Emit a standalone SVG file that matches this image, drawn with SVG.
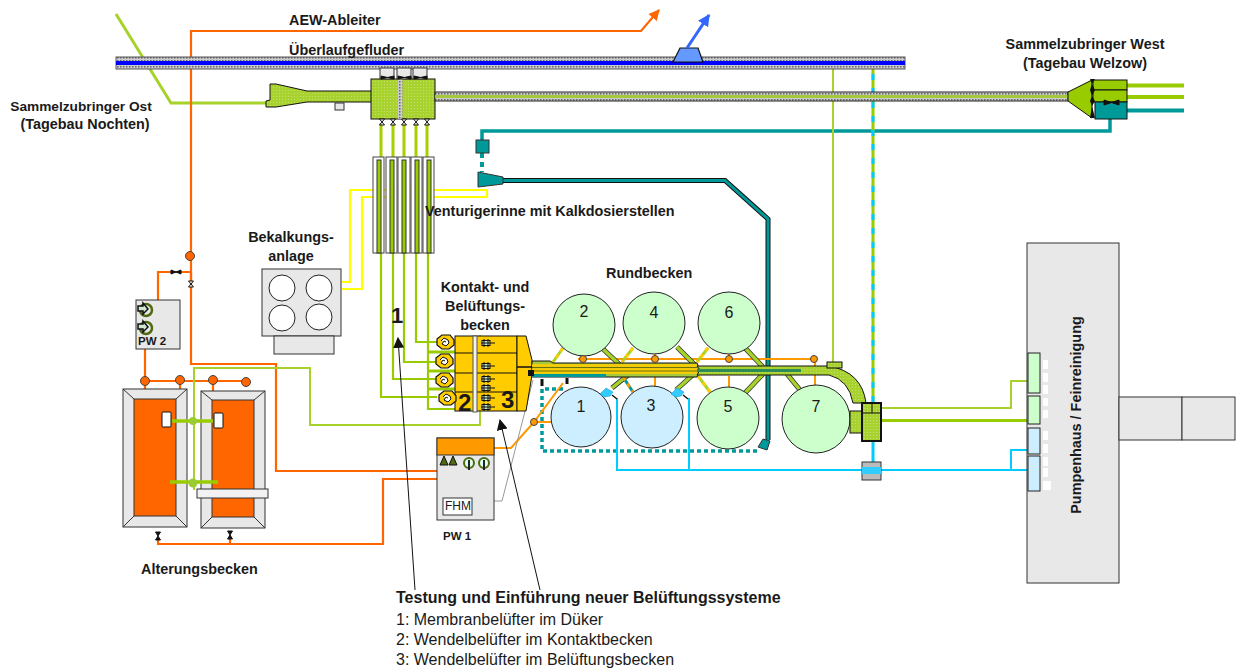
<svg xmlns="http://www.w3.org/2000/svg" width="1238" height="668" viewBox="0 0 1238 668">
<style>
text{font-family:"Liberation Sans",Arial,sans-serif;fill:#1a1a1a}
.b{font-weight:bold;font-size:14.4px}
.m{text-anchor:middle}
.n{font-size:16px;text-anchor:middle}
.l{font-size:16px}
.o{fill:none;stroke:#ff6600;stroke-width:2.2}
.oc{fill:#ff6600;stroke:#444;stroke-width:1}
.a{fill:none;stroke:#ff9900;stroke-width:2}
.ac{fill:#ff9900;stroke:#444;stroke-width:1}
.g{fill:none;stroke:#99cc00;stroke-width:2.2}
.gt{fill:none;stroke:#a6d22a;stroke-width:2}
.y{fill:none;stroke:#ffff00;stroke-width:2.2}
.c{fill:none;stroke:#00ccff;stroke-width:2}
.ln{stroke:#111;stroke-width:1}
.box{fill:#e8e8e8;stroke:#333;stroke-width:1}
.pf{fill:url(#gh);stroke:#111;stroke-width:1}
.rg{fill:#ccffcc;stroke:#222;stroke-width:1}
.rb{fill:#cceeff;stroke:#222;stroke-width:1}
.vs{fill:#fff;stroke:#444}
.vi{fill:#99cc00;stroke:#333}
</style>
<defs>
<pattern id="gh" width="3" height="3" patternUnits="userSpaceOnUse"><rect width="3" height="3" fill="#a8d22e"/><rect width="1" height="1" fill="#c4dc70"/></pattern>
<pattern id="hg" width="3" height="3" patternUnits="userSpaceOnUse"><rect width="3" height="3" fill="#ccc"/><rect width="1.5" height="1.5" fill="#666"/></pattern>
<marker id="ah" viewBox="0 0 10 10" refX="9" refY="5" markerWidth="11" markerHeight="11" markerUnits="userSpaceOnUse" orient="auto"><path d="M0 0L10 5L0 10Z" fill="#111"/></marker>
<marker id="ao" viewBox="0 0 10 10" refX="9" refY="5" markerWidth="11" markerHeight="11" markerUnits="userSpaceOnUse" orient="auto"><path d="M0 0L10 5L0 10Z" fill="#ff6600"/></marker>
<marker id="abl" viewBox="0 0 10 10" refX="9" refY="5" markerWidth="12" markerHeight="12" markerUnits="userSpaceOnUse" orient="auto"><path d="M0 0L10 5L0 10Z" fill="#3366ff"/></marker>
<path id="v" d="M-2.500 -3H2.500L-2.500 3H2.500Z" fill="#fff" stroke="#111" stroke-width="1"/>
<path id="vb" d="M-2.500 -4H2.500L-2.500 4H2.500Z" fill="#111" stroke="#111" stroke-width="1"/>
<g id="pump"><circle cx="8" cy="7" r="6" fill="none" stroke="#4f6a10" stroke-width="2.500"/><path d="M0 3H5V0L10 6L5 11V8H0Z" fill="#cfe8cf" stroke="#111" stroke-width="1.500"/></g>
<g id="aer"><rect x="-4" y="-2.500" width="8" height="5" fill="#cdeccd" stroke="#111" stroke-width="1"/><path d="M-5 0H9M-2 -4V4M2 -4V4" stroke="#111" stroke-width="1"/></g>
<g id="wend"><path d="M-8 -3L-3 -7H5L9 -2V3L4 7H-3L-8 3Z" fill="#ffcc00" stroke="#111" stroke-width="1.200"/><path d="M-4 -1L-1 -4L3 -2L4 1L1 4L-3 2L-1 -1L1 0" fill="#fff" stroke="#111" stroke-width="1"/></g>
<g id="noz"><path d="M-6 2L0 -4L7 0L4 4L-1 5Z" fill="#33ccff" stroke="#0099cc" stroke-width="0.500"/><path d="M6 3L11 7" stroke="#111" stroke-width="1.500"/></g>
</defs>

<g id="connectors">
<path class="gt" d="M116 14L171 103H266" style="stroke-width:3"/>
<path class="o" d="M191 256V31H641L659 10" marker-end="url(#ao)"/>
<path class="o" d="M191 256V364H276V471H444V467M453 471V467"/>
<path class="o" d="M158 540V544H383V479H484V470M469 479V470M230 535V544"/>
<path class="o" d="M145 349V381H246M191 272H158V332H150M158 312H150M191 272V285"/>
<path class="o" d="M145 381V389M180 381V389M213 381V391"/>
<path d="M381 123V157M393 123V157M404 123V157M416 123V157M427 123V157" fill="none" stroke="#a6d000" stroke-width="3"/>
<path class="g" d="M381 253V397H437M393 253V379H438M404 253V362H438M416 253V342H437M428 253V409H455"/>
<path d="M427 352H455M427 371H455M427 389H455" fill="none" stroke="#99cc00" stroke-width="3"/>
<path class="gt" d="M194 490V368H310V425H480V335"/>
<path class="y" d="M342 282H350V190H487V197H362V289H342"/>
<path d="M1110 118V131H482V140" fill="none" stroke="#009999" stroke-width="3.500"/>
<path d="M482 153V172" fill="none" stroke="#009999" stroke-width="4" stroke-dasharray="5 4"/>
<path d="M503 180.500H725L768 219V440" fill="none" stroke="#111" stroke-width="5"/>
<path d="M503 180.500H725L768 219V440" fill="none" stroke="#009999" stroke-width="3"/>
<path d="M757 451H542V389H565" fill="none" stroke="#009999" stroke-width="3.500" stroke-dasharray="4 3"/>
<path class="a" d="M494 448H511L534 422L563 383M534 422H551"/>
<path d="M472 501H502L533 380" fill="none" stroke="#999" stroke-width="1"/>
<path class="a" d="M578 359H815V386M583 353V359M655 353V359M729 353V359M655 376V387M729 376V388"/>
<path d="M833 68V362" fill="none" stroke="#a6d22a" stroke-width="2"/>
<path class="ln" d="M415 590L398 338" marker-end="url(#ah)" fill="none"/>
<path class="ln" d="M540 590L500 420" marker-end="url(#ah)" fill="none"/>
<path class="gt" d="M881 408H1011V381H1027"/>
<path d="M881 420.500H1028" fill="none" stroke="#99cc00" stroke-width="3"/>
<path class="c" d="M617 398V470H1011V450H1027M1011 470H1027M689 398V470"/>
<path d="M873 57V403" fill="none" stroke="#99cc00" stroke-width="3"/>
<path d="M873 60V403" fill="none" stroke="#00ccff" stroke-width="3" stroke-dasharray="6 8"/>
<path d="M873 441V462" fill="none" stroke="#00ccff" stroke-width="3"/>
<path d="M1127 85.500H1184M1127 97H1184" fill="none" stroke="#99cc00" stroke-width="4"/>
<path d="M1127 110.500H1184" fill="none" stroke="#009999" stroke-width="4"/>
</g>

<g id="ueberlauf"><rect x="116" y="57" width="789" height="12" fill="url(#hg)" stroke="#555" stroke-width="1"/><rect x="116" y="61" width="789" height="4" fill="#0000ff"/></g>
<g id="wehr"><path d="M673 62L680 48H698L703 62Z" fill="#6699ff" stroke="#111" stroke-width="1.200"/><path d="M687 48L709 15" stroke="#3366ff" stroke-width="3" fill="none" marker-end="url(#abl)"/></g>
<g id="einlauf-ost"><path d="M266 107V101L270 100V84H276L307 91H372V102H307L276 107Z" class="pf"/><rect x="335" y="103" width="9" height="7" class="box"/></g>
<g id="verteiler"><rect x="371" y="79" width="64" height="40" class="pf"/><rect x="398" y="79" width="4.500" height="40" fill="url(#hg)"/><rect x="380" y="68" width="14" height="11" class="box"/><rect x="397" y="68" width="14" height="11" class="box"/><rect x="413" y="68" width="14" height="11" class="box"/><path d="M381 76L394 79V76L381 79ZM398 76L411 79V76L398 79ZM414 76L427 79V76L414 79Z" stroke="#111" fill="#111"/><use href="#v" x="382" y="122"/><use href="#v" x="393" y="122"/><use href="#v" x="404" y="122"/><use href="#v" x="416" y="122"/><use href="#v" x="427" y="122"/></g>
<g id="zulauf-west"><rect x="435" y="92" width="633" height="9" fill="url(#hg)" stroke="#222" stroke-width="1"/><rect x="435" y="95" width="633" height="3" fill="#a6c83c"/></g>
<g id="venturi">
<rect x="373" y="157" width="11" height="96" class="vs"/><rect x="377" y="160" width="4" height="93" class="vi"/>
<rect x="386" y="157" width="11" height="96" class="vs"/><rect x="390" y="160" width="4" height="93" class="vi"/>
<rect x="398" y="157" width="12" height="96" class="vs"/><rect x="402" y="160" width="4" height="93" class="vi"/>
<rect x="411" y="157" width="11" height="96" class="vs"/><rect x="415" y="160" width="4" height="93" class="vi"/>
<rect x="423" y="157" width="11" height="96" class="vs"/><rect x="427" y="160" width="4" height="93" class="vi"/>
</g>
<g id="kalk"><rect x="476" y="140" width="13" height="13" fill="#009999" stroke="#333"/><path d="M478 172L503 177V184L478 187Z" fill="#009999" stroke="#333"/><path d="M763 439L770 441L767 450L758 447Z" fill="#009999" stroke="#333"/></g>
<g id="bekalkung"><rect x="262" y="269" width="79" height="67" class="box"/><rect x="274" y="336" width="60" height="18" class="box"/><circle cx="282" cy="288" r="13" fill="#fff" stroke="#222"/><circle cx="319" cy="288" r="13" fill="#fff" stroke="#222"/><circle cx="282" cy="318" r="13" fill="#fff" stroke="#222"/><circle cx="319" cy="317" r="13" fill="#fff" stroke="#222"/></g>
<g id="pw2"><rect x="136" y="300" width="44" height="49" class="box"/><use href="#pump" x="138" y="303"/><use href="#pump" x="138" y="321"/></g>
<g id="alterung-1"><rect x="123" y="389" width="64" height="138" class="box"/><rect x="134" y="399" width="42" height="117" fill="#ff6600" stroke="#333"/><path d="M123 389L134 399M187 389L176 399M123 527L134 516M187 527L176 516" stroke="#333" fill="none"/><rect x="162" y="412" width="9" height="15" rx="1" fill="#fff" stroke="#111"/></g>
<g id="alterung-2"><rect x="201" y="391" width="64" height="137" class="box"/><rect x="212" y="400" width="42" height="117" fill="#ff6600" stroke="#333"/><path d="M201 391L212 400M265 391L254 400M201 528L212 517M265 528L254 517" stroke="#333" fill="none"/><rect x="214" y="413" width="9" height="15" rx="1" fill="#fff" stroke="#111"/><rect x="197" y="489" width="71" height="9" fill="#f2f2f2" stroke="#333"/></g>
<g id="knoten"><circle cx="190" cy="256" r="4.500" class="oc"/><circle cx="145" cy="381" r="4.500" class="oc"/><circle cx="180" cy="380" r="4.500" class="oc"/><circle cx="213" cy="380" r="4.500" class="oc"/><circle cx="246" cy="382" r="4.500" class="oc"/><path d="M171 270V274L181 270V274Z" fill="#111" stroke="#111"/><use href="#v" x="191" y="284"/><use href="#vb" x="158" y="536"/><use href="#vb" x="230" y="535"/><path d="M172 421H213M170 482H218" fill="none" stroke="#99cc00" stroke-width="3.500"/><circle cx="193" cy="421" r="4" fill="#99cc33"/><circle cx="193" cy="483" r="4.500" fill="#99cc33"/></g>
<g id="pw1"><rect x="437" y="438" width="57" height="82" class="box"/><rect x="437" y="438" width="57" height="17" fill="#ff9900" stroke="#333"/><path d="M440 465L444 456L448 465ZM449 465L453 456L457 465Z" fill="#4f6a10" stroke="#111"/><circle cx="469" cy="463" r="5" fill="#dfe" stroke="#4f6a10" stroke-width="2"/><circle cx="484" cy="463" r="5" fill="#dfe" stroke="#4f6a10" stroke-width="2"/><path d="M469 460V470M484 460V470" stroke="#222" stroke-width="2"/><rect x="443" y="498" width="29" height="17" fill="#fff" stroke="#333"/></g>
<g id="kontakt">
<rect x="455" y="336" width="62" height="75" fill="#ffcc00" stroke="#111"/><path d="M517 336H526L532 360V375L526 411H517Z" fill="#ffcc00" stroke="#111"/>
<path d="M455 353H517M455 373H517M455 392H517" stroke="#111" fill="none"/><path d="M517 367H532" stroke="#111" stroke-width="1.500"/>
<rect x="473" y="336" width="4" height="76" fill="#f2f2f2" stroke="#555"/>
<use href="#aer" x="486" y="343"/><use href="#aer" x="486" y="366"/><use href="#aer" x="486" y="379"/><use href="#aer" x="486" y="388"/><use href="#aer" x="486" y="398"/><use href="#aer" x="486" y="407"/>
<use href="#wend" x="445" y="342"/><use href="#wend" x="444" y="361"/><use href="#wend" x="444" y="380"/><use href="#wend" x="447" y="398"/>
</g>
<g id="zweige">
<g fill="none" stroke="#333" stroke-width="5"><path d="M602 348L620 365M677 347L695 365M745 348L763 367M612 388L628 375M676 390L695 373M745 393L763 374M787 374L800 390"/></g>
<g fill="none" stroke="#a6d22a" stroke-width="3.500"><path d="M602 348L620 365M677 347L695 365M745 348L763 367M612 388L628 375M676 390L695 373M745 393L763 374M787 374L800 390"/></g>
<g fill="none" stroke-width="3"><path d="M563 348L553 362M633 348L622 362M708 348L697 362M698 376L710 392" stroke="#a6d22a"/><path d="M563 348L553 362M633 348L622 362M708 348L697 362M698 376L710 392" stroke="#ffcc00" stroke-dasharray="4 4"/><path d="M623 377L633 392" stroke="#009999"/><path d="M623 377L633 392" stroke="#ff9900" stroke-dasharray="4 4"/></g>
</g>
<g id="hauptleitung">
<path d="M532 361H550L553 363H697L700 370L697 377H532Z" fill="#a6c83c" stroke="#111"/><path d="M532 365.500H697M532 369.500H697M532 372.500H697" stroke="#ffcc00" stroke-width="2.500" fill="none"/><path d="M532 367.500H697M532 371H697" stroke="#5a5a00" stroke-width="0.800" fill="none"/><path d="M532 375.500H606" stroke="#009999" stroke-width="3"/><rect x="528" y="370" width="6" height="6" fill="#111"/>
<path d="M697 366H829Q862 372 866 403H853Q849 380 829 375H697L700 370Z" class="pf"/><path d="M697 370.500H801" stroke="#2e8b57" stroke-width="3"/>
<rect x="827" y="362" width="15" height="6" class="pf"/>
<path d="M542 379V386M567 378V384" stroke="#111" stroke-width="3"/>
</g>
<g id="becken">
<circle cx="584" cy="325" r="31" class="rg"/><circle cx="654" cy="323" r="31" class="rg"/><circle cx="729" cy="323" r="31" class="rg"/>
<circle cx="581" cy="417" r="30" class="rb"/><circle cx="652" cy="417" r="31" class="rb"/><circle cx="728" cy="418" r="31" class="rg"/><circle cx="816" cy="419" r="34" class="rg"/>
<use href="#noz" x="606" y="392"/><use href="#noz" x="677" y="392"/>
<circle cx="583" cy="359" r="3.500" class="ac"/><circle cx="655" cy="359" r="3.500" class="ac"/><circle cx="729" cy="359" r="3.500" class="ac"/><circle cx="814" cy="359" r="3.500" class="ac"/><circle cx="534" cy="422" r="3.500" class="ac"/>
</g>
<g id="ablauf"><rect x="850" y="411" width="13" height="22" class="pf"/><rect x="862" y="403" width="19" height="38" class="pf" style="stroke-width:2"/><path d="M862 413H881M872 403V413" stroke="#111" fill="none"/><rect x="862" y="462" width="19" height="18" fill="#bbb" stroke="#333"/><rect x="862" y="467" width="19" height="7" fill="#33ccff"/></g>
<g id="einlauf-west2"><path d="M1068 92L1092 80V118L1068 101Z" fill="#99cc00" stroke="#111"/><rect x="1093" y="80" width="34" height="10" fill="#99cc00" stroke="#111"/><rect x="1093" y="90" width="34" height="12" fill="#99cc00" stroke="#111"/><rect x="1095" y="102" width="32" height="17" fill="#009999" stroke="#111"/><path d="M1104 100L1119 105V100L1104 105Z" fill="#111" stroke="#111"/><path d="M1090 79H1095L1092 84L1095 90L1092 96L1095 101L1092 106L1095 118H1090L1092 106L1090 101L1092 96L1090 90L1092 84Z" fill="#111"/></g>
<g id="pumpenhaus"><rect x="1027" y="243" width="92" height="340" class="box"/><rect x="1028" y="353" width="12" height="40" class="rg"/><rect x="1028" y="396" width="12" height="28" class="rg"/><rect x="1028" y="428" width="12" height="26" class="rb"/><rect x="1028" y="456" width="12" height="35" class="rb"/><path d="M1043 360h5v9h-5zM1043 373h5v9h-5zM1043 385h5v9h-5zM1043 398h5v8h-5zM1043 410h5v8h-5zM1043 431h5v9h-5zM1043 444h5v9h-5zM1043 457h5v9h-5zM1043 468h5v9h-5zM1043 481h8v9h-8z" fill="#fff"/></g>
<g id="feinreinigung"><rect x="1119" y="397" width="63" height="43" class="box"/><rect x="1182" y="397" width="53" height="43" class="box"/></g>

<g id="labels">
<text class="b" x="289" y="25">AEW-Ableiter</text>
<text class="b" x="289" y="55">Überlaufgefluder</text>
<text class="b m" x="81" y="111" style="font-size:13.700px">Sammelzubringer Ost</text>
<text class="b m" x="85" y="129">(Tagebau Nochten)</text>
<text class="b m" x="1085" y="49">Sammelzubringer West</text>
<text class="b m" x="1085" y="68">(Tagebau Welzow)</text>
<text class="b" x="425" y="216">Venturigerinne mit Kalkdosierstellen</text>
<text class="b m" x="291" y="242">Bekalkungs-</text>
<text class="b m" x="291" y="261">anlage</text>
<text class="b m" x="485" y="292">Kontakt- und</text>
<text class="b m" x="485" y="311">Belüftungs-</text>
<text class="b m" x="485" y="330">becken</text>
<text class="b" x="606" y="278">Rundbecken</text>
<text x="391" y="323" font-size="22" font-weight="bold">1</text>
<text x="458" y="411" font-size="24" font-weight="bold">2</text>
<text x="501" y="408" font-size="24" font-weight="bold">3</text>
<text class="n" x="584" y="317">2</text><text class="n" x="654" y="318">4</text><text class="n" x="729" y="318">6</text>
<text class="n" x="581" y="412">1</text><text class="n" x="651" y="411">3</text><text class="n" x="728" y="412">5</text><text class="n" x="816" y="412">7</text>
<text x="138" y="345" font-size="11.500" font-weight="bold">PW 2</text>
<text x="443" y="540" font-size="11.500" font-weight="bold">PW 1</text>
<text x="445" y="510" font-size="12">FHM</text>
<text class="b" x="141" y="574">Alterungsbecken</text>
<text class="b m" transform="translate(1081 415) rotate(-90)">Pumpenhaus / Feinreinigung</text>
<text x="396" y="603" class="l" font-weight="bold">Testung und Einführung neuer Belüftungssysteme</text>
<text x="396" y="625" class="l">1: Membranbelüfter im Düker</text>
<text x="396" y="645" class="l">2: Wendelbelüfter im Kontaktbecken</text>
<text x="396" y="665" class="l">3: Wendelbelüfter im Belüftungsbecken</text>
</g>
</svg>
